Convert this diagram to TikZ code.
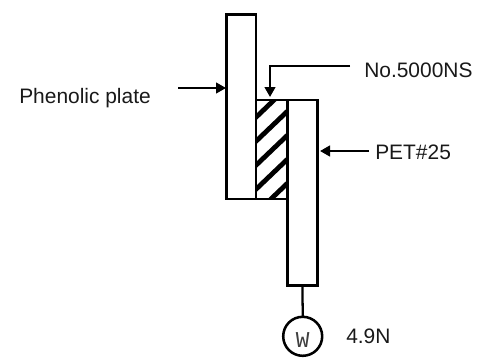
\documentclass[tikz,border=0pt]{standalone}
\usepackage{fontspec}
\setmainfont{Liberation Sans}
\newfontfamily\wfont{Liberation Mono}
\usetikzlibrary{arrows.meta}
\tikzset{
  plate/.style={draw=black,line width=1.9pt,fill=white,inner sep=0pt,outer sep=0pt},
  lbl/.style={inner sep=0pt,anchor=base west,font=\fontsize{15.7pt}{18pt}\selectfont,text=black!90},
  lead/.style={draw=black,line width=1.7pt,-{Triangle[length=7.5pt,width=8pt]}},
  stripe/.style={line width=3.6pt,black}
}
\begin{document}
\begin{tikzpicture}[x=0.75pt,y=-0.75pt]
\useasboundingbox (0,0) rectangle (478,361);
\fill[white] (0,0) rectangle (478,361);
\begin{scope}
\clip (256,100) rectangle (287.5,199);
\foreach \yy in {123,147,171,195,219}
  \draw[stripe] (250,\yy) -- (295,\yy-43);
\end{scope}
\node[plate,minimum width=0.75pt*29.5,minimum height=0.75pt*184.5,anchor=north west] (phen) at (226.5,14.5) {};
\node[draw=black,line width=1.9pt,inner sep=0pt,outer sep=0pt,minimum width=0.75pt*31.5,minimum height=0.75pt*99,anchor=north west] (tape) at (256,100) {};
\node[plate,minimum width=0.75pt*30,minimum height=0.75pt*185.5,anchor=north west] (pet) at (287.5,100) {};
\node[draw=black,line width=1.9pt,fill=white,circle,minimum size=0.75pt*39,inner sep=0pt,outer sep=0pt] (w) at (302.7,336.3) {};
\node[inner sep=0pt,font=\wfont\fontsize{17pt}{20pt}\selectfont,text=black!75] (wlab) at (302.7,340.5) {W};
\draw[draw=black,line width=1.7pt] (pet.south) -- (w.north);
\node[lbl] (lp) at (19,103) {Phenolic plate};
\node[lbl] (ln) at (364,77) {No.5000NS};
\node[lbl] (lt) at (375,159) {PET\#25};
\node[lbl] (lw) at (346,343) {4.9N};
\coordinate (a1) at (178,88);
\coordinate (a2) at (226,88);
\draw[lead] (a1) -- (a2);
\coordinate (b1) at (350,66);
\coordinate (b2) at (270,66);
\coordinate (b3) at (270,97);
\draw[lead] (b1) -- (b2) -- (b3);
\coordinate (c1) at (369,151);
\coordinate (c2) at (320,151);
\draw[lead] (c1) -- (c2);
\end{tikzpicture}
\end{document}
